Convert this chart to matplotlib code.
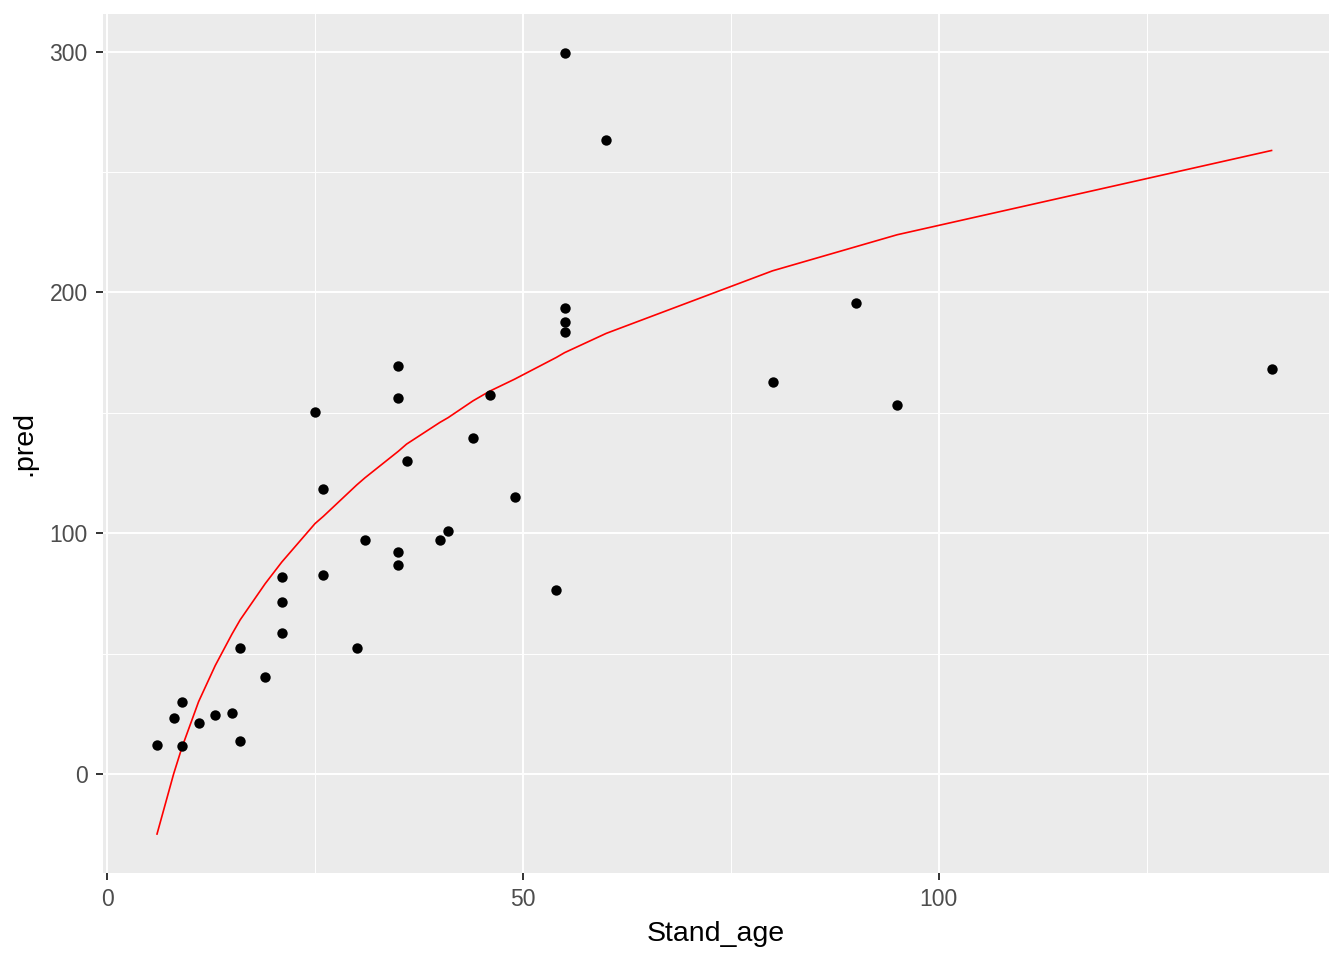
import matplotlib
matplotlib.use("Agg")
import matplotlib.pyplot as plt
from matplotlib.ticker import MultipleLocator

stand_age = [6, 8, 9, 9, 11, 13, 15, 16, 16, 19, 21, 21, 21, 25, 26, 26,
             30, 31, 35, 35, 35, 35, 36, 40, 41, 44, 46, 49, 54, 55, 55,
             55, 55, 60, 80, 90, 95, 140]
pred_pts = [12, 23.3, 29.9, 11.6, 21.2, 24.5, 25.3, 52.3, 13.7, 40.3, 81.8,
            71.5, 58.6, 150.4, 118.4, 82.7, 52.3, 97.2, 169.5, 156.2, 92.2,
            86.8, 130.0, 97.2, 101.0, 139.6, 157.5, 115.1, 76.4, 299.5, 193.6,
            187.8, 183.6, 263.4, 162.9, 195.7, 153.3, 168.3]

# fitted curve (red line), read at each distinct age
fit_age = [6, 8, 9, 11, 13, 15, 16, 19, 21, 25, 26, 30, 31, 35, 36, 40, 41,
           44, 46, 49, 54, 55, 60, 80, 90, 95, 140]
fit_pred = [-25, 0, 11, 30, 45, 58, 64, 79, 88, 104, 107, 120, 123, 134, 137,
            146, 148, 155, 159, 164, 173, 175, 183, 209, 219, 224, 259]

plt.rcParams['font.family'] = ['Liberation Sans', 'DejaVu Sans']

fig = plt.figure(figsize=(13.44, 9.6), dpi=100)
ax = fig.add_axes([0.0766, 0.0906, 0.9122, 0.8948])
ax.set_facecolor('#EBEBEB')

ax.scatter(stand_age, pred_pts, s=56, color='black', zorder=3, linewidths=0)
ax.plot(fit_age, fit_pred, color='red', lw=1.2, zorder=2)

ax.set_xlim(-0.5, 146.9)
ax.set_ylim(-41.2, 315.7)
ax.xaxis.set_major_locator(MultipleLocator(50))
ax.xaxis.set_minor_locator(MultipleLocator(25))
ax.yaxis.set_major_locator(MultipleLocator(100))
ax.yaxis.set_minor_locator(MultipleLocator(50))

ax.grid(which='major', color='white', lw=1.4)
ax.grid(which='minor', color='white', lw=0.7)
ax.set_axisbelow(True)
for s in ax.spines.values():
    s.set_visible(False)

ax.tick_params(which='major', length=5, width=1.4, color='#333333',
               labelcolor='#4D4D4D', labelsize=16.5, pad=6)
ax.tick_params(which='minor', length=0)

ax.set_xlabel('Stand_age', fontsize=20.5, color='black', labelpad=7)
ax.set_ylabel('.pred', fontsize=20.5, color='black', labelpad=9)

fig.savefig('out.png', dpi=100, facecolor='white')
